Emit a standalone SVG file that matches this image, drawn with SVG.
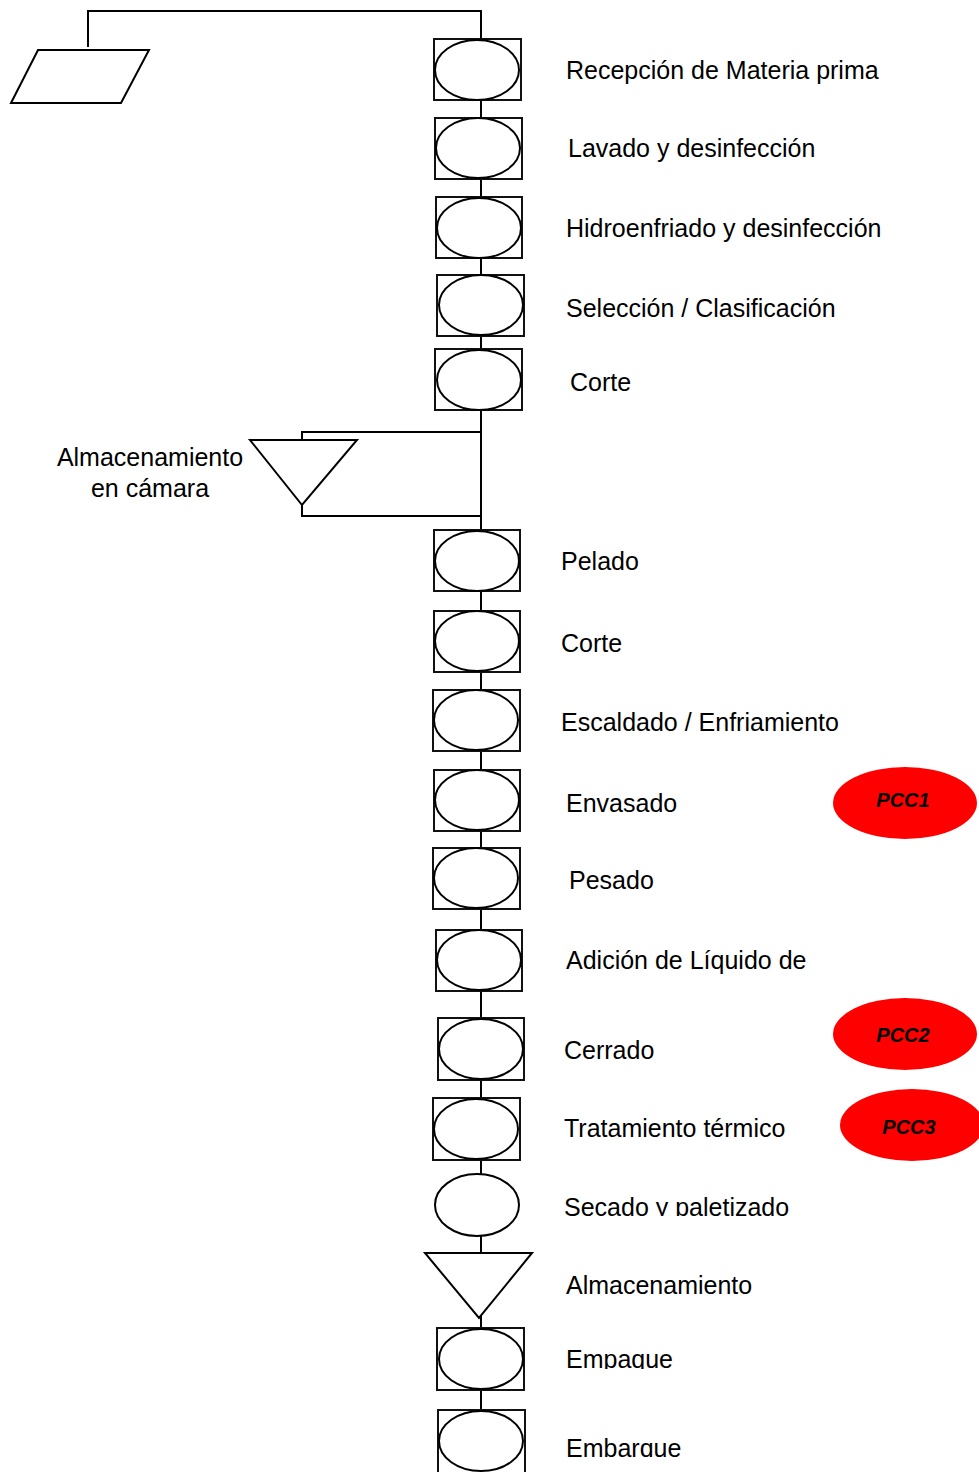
<svg xmlns="http://www.w3.org/2000/svg" width="979" height="1472" viewBox="0 0 979 1472">
<style>
.ln{fill:none;stroke:#000;stroke-width:2}
.bx{fill:#fff;stroke:#111;stroke-width:2}
.ov{fill:#fff;stroke:#000;stroke-width:2}
.lb{font-family:"Liberation Sans",Arial,sans-serif;font-size:25px;fill:#000}
.pcc{fill:#ff0000;stroke:none}
.pt{font-family:"Liberation Sans",Arial,sans-serif;font-size:20px;font-weight:bold;font-style:italic;fill:#000;text-anchor:middle}
</style>
<defs>
<clipPath id="c1"><rect x="540" y="1180" width="300" height="36"/></clipPath>
<clipPath id="c2"><rect x="540" y="1340" width="300" height="29"/></clipPath>
<clipPath id="c3"><rect x="540" y="1425" width="300" height="32"/></clipPath>
</defs>
<rect width="979" height="1472" fill="#fff"/>
<g id="connectors">
<polyline class="ln" points="88,47 88,11 481,11 481,39"/>
<line class="ln" x1="481" y1="100" x2="481" y2="1472"/>
<polyline class="ln" points="481,432 302,432 302,440"/>
<polyline class="ln" points="302,505 302,516 481,516"/>
</g>
<g id="n0"><polygon class="ov" points="11,103 38,50 149,50 121,103"/></g>
<g id="n1"><rect class="bx" x="434" y="39" width="87" height="61"/><ellipse class="ov" cx="477" cy="70" rx="42" ry="30"/><text class="lb" x="566" y="79">Recepción de Materia prima</text></g>
<g id="n2"><rect class="bx" x="435" y="118" width="87" height="61"/><ellipse class="ov" cx="478" cy="148" rx="42" ry="30"/><text class="lb" x="568" y="157">Lavado y desinfección</text></g>
<g id="n3"><rect class="bx" x="436" y="197" width="86" height="61"/><ellipse class="ov" cx="479" cy="228" rx="42" ry="30"/><text class="lb" x="566" y="237">Hidroenfriado y desinfección</text></g>
<g id="n4"><rect class="bx" x="437" y="275" width="87" height="61"/><ellipse class="ov" cx="481" cy="305" rx="42" ry="30"/><text class="lb" x="566" y="317">Selección / Clasificación</text></g>
<g id="n5"><rect class="bx" x="435" y="349" width="87" height="61"/><ellipse class="ov" cx="479" cy="380" rx="42" ry="30"/><text class="lb" x="570" y="391">Corte</text></g>
<g id="n6"><polygon class="ov" points="250,440 357,440 302,505"/><text class="lb" x="150" y="466" text-anchor="middle">Almacenamiento</text><text class="lb" x="150" y="497" text-anchor="middle">en cámara</text></g>
<g id="n7"><rect class="bx" x="434" y="530" width="86" height="61"/><ellipse class="ov" cx="477" cy="561" rx="42" ry="30"/><text class="lb" x="561" y="570">Pelado</text></g>
<g id="n8"><rect class="bx" x="434" y="611" width="86" height="61"/><ellipse class="ov" cx="477" cy="641" rx="42" ry="30"/><text class="lb" x="561" y="652">Corte</text></g>
<g id="n9"><rect class="bx" x="433" y="690" width="87" height="61"/><ellipse class="ov" cx="476" cy="720" rx="42" ry="30"/><text class="lb" x="561" y="731">Escaldado / Enfriamiento</text></g>
<g id="n10"><rect class="bx" x="434" y="770" width="86" height="61"/><ellipse class="ov" cx="477" cy="800" rx="42" ry="30"/><text class="lb" x="566" y="812">Envasado</text></g>
<g id="n11"><rect class="bx" x="433" y="848" width="87" height="61"/><ellipse class="ov" cx="476" cy="878" rx="42" ry="30"/><text class="lb" x="569" y="889">Pesado</text></g>
<g id="n12"><rect class="bx" x="436" y="930" width="86" height="61"/><ellipse class="ov" cx="479" cy="960" rx="42" ry="30"/><text class="lb" x="566" y="969">Adición de Líquido de</text></g>
<g id="n13"><rect class="bx" x="438" y="1018" width="86" height="62"/><ellipse class="ov" cx="481" cy="1049" rx="42" ry="30"/><text class="lb" x="564" y="1059">Cerrado</text></g>
<g id="n14"><rect class="bx" x="433" y="1098" width="87" height="62"/><ellipse class="ov" cx="476" cy="1129" rx="42" ry="30"/><text class="lb" x="564" y="1137">Tratamiento térmico</text></g>
<g id="n15"><ellipse class="ov" cx="477" cy="1205" rx="42" ry="31"/><text class="lb" x="564" y="1216" clip-path="url(#c1)">Secado y paletizado</text></g>
<g id="n16"><polygon class="ov" points="425,1253 532,1253 479,1318"/><text class="lb" x="566" y="1294">Almacenamiento</text></g>
<g id="n17"><rect class="bx" x="437" y="1328" width="87" height="62"/><ellipse class="ov" cx="481" cy="1359" rx="42" ry="30"/><text class="lb" x="566" y="1368" clip-path="url(#c2)">Empaque</text></g>
<g id="n18"><rect class="bx" x="438" y="1410" width="87" height="64"/><ellipse class="ov" cx="481" cy="1441" rx="42" ry="30"/><text class="lb" x="566" y="1457" clip-path="url(#c3)">Embarque</text></g>
<g id="pcc1"><ellipse class="pcc" cx="905" cy="803" rx="72" ry="36"/><text class="pt" x="903" y="807">PCC1</text></g>
<g id="pcc2"><ellipse class="pcc" cx="905" cy="1034" rx="72" ry="36"/><text class="pt" x="903" y="1042">PCC2</text></g>
<g id="pcc3"><ellipse class="pcc" cx="912" cy="1125" rx="72" ry="36"/><text class="pt" x="909" y="1134">PCC3</text></g>
</svg>
